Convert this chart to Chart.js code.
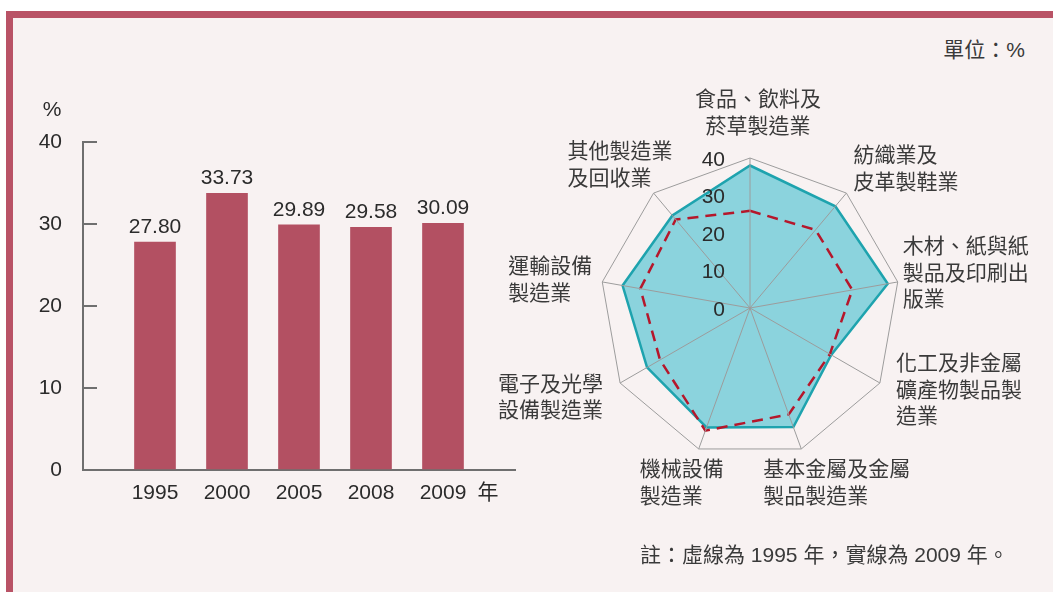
<!DOCTYPE html>
<html lang="zh-Hant">
<head>
<meta charset="utf-8">
<script src="https://cdn.jsdelivr.net/npm/chart.js@4.4.1/dist/chart.umd.min.js"></script>
<style>
  html, body { margin: 0; padding: 0; background: #fff; }
  body { width: 1053px; height: 592px; position: relative; overflow: hidden;
         font-family: "Liberation Sans", "Noto Sans CJK TC", sans-serif; color: #333; }
  .frame { position: absolute; left: 6px; top: 11px; right: -10px; bottom: -10px;
           border-top: 7px solid #b95366; border-left: 7px solid #b95366; background: #f8f2f2; }
  #barBox { position: absolute; left: 0; top: 0; }
  #radarBox { position: absolute; left: 490px; top: 80px; }
  .unit { position: absolute; right: 28px; top: 33px; font-size: 21px; color: #3a3a3a; }
  .note { position: absolute; left: 640px; top: 538px; font-size: 21px; color: #3a3a3a; }
</style>
</head>
<body>
<div class="frame"></div>
<div class="unit">單位：%</div>
<div id="barBox"><canvas id="bar" width="530" height="592"></canvas></div>
<div id="radarBox"><canvas id="radar" width="550" height="450"></canvas></div>
<div class="note">註：虛線為 1995 年，實線為 2009 年。</div>
<script>
// bar chart: share of manufacturing, %
const years = ['1995', '2000', '2005', '2008', '2009'];
const shares = [27.80, 33.73, 29.89, 29.58, 30.09];

// radar: by industry, clockwise from the top
const sectors = [
  '食品、飲料及\n菸草製造業',
  '紡織業及\n皮革製鞋業',
  '木材、紙與紙\n製品及印刷出\n版業',
  '化工及非金屬\n礦產物製品製\n造業',
  '基本金屬及金屬\n製品製造業',
  '機械設備\n製造業',
  '電子及光學\n設備製造業',
  '運輸設備\n製造業',
  '其他製造業\n及回收業'
];
const share1995 = [25.9, 27.2, 27.7, 24.6, 30.2, 34.8, 27.7, 29.7, 30.8];
const share2009 = [38.0, 35.4, 37.3, 25.0, 33.8, 33.9, 31.7, 34.5, 32.2];
const radarTicks = [0, 10, 20, 30, 40];

const FONT = '"Liberation Sans", "Noto Sans CJK TC", sans-serif';
const INK = '#2b2b2b';
const AXIS = '#6f6f6f';
const BAR = '#b35062';
const TEAL = '#1ea3ae';
const FILL = '#8bd3dd';
const RED = '#b5172b';
const GRID = '#9c9c9c';
const LINE_H = 26.5;

// where each sector label sits next to its outer vertex: [h-align, v-align, dx, dy]
const labelPlace = [
  ['center', 'bottom', 8, -18],
  ['left', 'bottom', 7, 3],
  ['left', 'middle', 5, -8],
  ['left', 'middle', 16, 8],
  ['left', 'top', -38, 8],
  ['left', 'top', -59, 8],
  ['right', 'middle', -17, 15],
  ['right', 'middle', -10, -1],
  ['right', 'bottom', 19, -1]
];

const barNotes = {
  id: 'barNotes',
  afterDraw(chart) {
    const {ctx, chartArea, scales: {x}} = chart;
    const meta = chart.getDatasetMeta(0);
    ctx.save();
    ctx.font = '21px ' + FONT;
    ctx.fillStyle = INK;
    ctx.textAlign = 'center';
    ctx.textBaseline = 'middle';
    meta.data.forEach((bar, i) => {
      const v = chart.data.datasets[0].data[i];
      if (v == null) return;
      ctx.fillText(v.toFixed(2), bar.x, bar.y - 15);
    });
    ctx.fillText('%', chartArea.left - 31, chartArea.top - 32);
    ctx.fillText('年', x.getPixelForValue(years.length) + 45, chartArea.bottom + 23);
    ctx.restore();
  }
};

new Chart(document.getElementById('bar'), {
  type: 'bar',
  data: {
    labels: ['', ...years, ''],
    datasets: [{ data: [null, ...shares, null], backgroundColor: BAR, barThickness: 41 }]
  },
  options: {
    responsive: false,
    animation: false,
    layout: { padding: { left: 0, top: 142, right: 15, bottom: 72 } },
    plugins: { legend: { display: false }, tooltip: { enabled: false } },
    scales: {
      x: {
        offset: false,
        grid: { display: false, drawTicks: false },
        border: { display: true, color: AXIS, width: 2 },
        ticks: { padding: 11, color: INK, autoSkip: false, maxRotation: 0, font: { size: 21, family: FONT } },
        afterFit(s) { s.height = 50; }
      },
      y: {
        min: 0, max: 40,
        ticks: { stepSize: 10, padding: 35, color: INK, font: { size: 21, family: FONT } },
        grid: { drawOnChartArea: false, drawTicks: true, tickLength: -14, color: AXIS, lineWidth: 2 },
        border: { display: true, color: AXIS, width: 2 },
        afterFit(s) { s.width = 83; }
      }
    }
  },
  plugins: [barNotes]
});

const sectorLabels = {
  id: 'sectorLabels',
  afterDraw(chart) {
    const r = chart.scales.r;
    const ctx = chart.ctx;
    ctx.save();
    ctx.font = '21px ' + FONT;
    ctx.fillStyle = '#3a3a3a';
    ctx.textBaseline = 'middle';
    ctx.textAlign = 'left';
    sectors.forEach((name, i) => {
      const lines = name.split('\n');
      const [h, v, dx, dy] = labelPlace[i];
      const p = r.getPointPosition(i, r.drawingArea);
      const w = Math.max(...lines.map(l => ctx.measureText(l).width));
      const hgt = lines.length * LINE_H;
      let left = p.x + dx;
      if (h === 'right') left -= w; else if (h === 'center') left -= w / 2;
      let top = p.y + dy;
      if (v === 'bottom') top -= hgt; else if (v === 'middle') top -= hgt / 2;
      lines.forEach((l, k) => {
        const lw = ctx.measureText(l).width;
        const x = h === 'center' ? left + (w - lw) / 2 : left;
        ctx.fillText(l, x, top + LINE_H * (k + 0.5));
      });
    });
    // tick values up the top spoke
    ctx.font = '21px ' + FONT;
    ctx.fillStyle = INK;
    ctx.textAlign = 'right';
    radarTicks.forEach(t => {
      const p = r.getPointPosition(0, r.getDistanceFromCenterForValue(t));
      ctx.fillText(String(t), r.xCenter - 25, p.y + 2);
    });
    ctx.restore();
  }
};

new Chart(document.getElementById('radar'), {
  type: 'radar',
  data: {
    labels: sectors,
    datasets: [
      { label: '1995', data: share1995, borderColor: RED, borderDash: [11, 7], borderWidth: 2.5,
        fill: false, pointRadius: 0, order: 0 },
      { label: '2009', data: share2009, borderColor: TEAL, backgroundColor: FILL, borderWidth: 2.5,
        fill: true, pointRadius: 0, order: 1 }
    ]
  },
  options: {
    responsive: false,
    animation: false,
    layout: { padding: { left: 110, right: 140, top: 78, bottom: 72 } },
    plugins: { legend: { display: false }, tooltip: { enabled: false } },
    elements: { line: { tension: 0 } },
    scales: {
      r: {
        min: 0, max: 40,
        ticks: { display: false, stepSize: 10 },
        pointLabels: { display: false },
        grid: { z: 1, lineWidth: 1, color: c => c.tick && c.tick.value === 40 ? GRID : 'rgba(0,0,0,0)' },
        angleLines: { color: GRID, lineWidth: 1 }
      }
    }
  },
  plugins: [sectorLabels]
});
</script>
</body>
</html>
